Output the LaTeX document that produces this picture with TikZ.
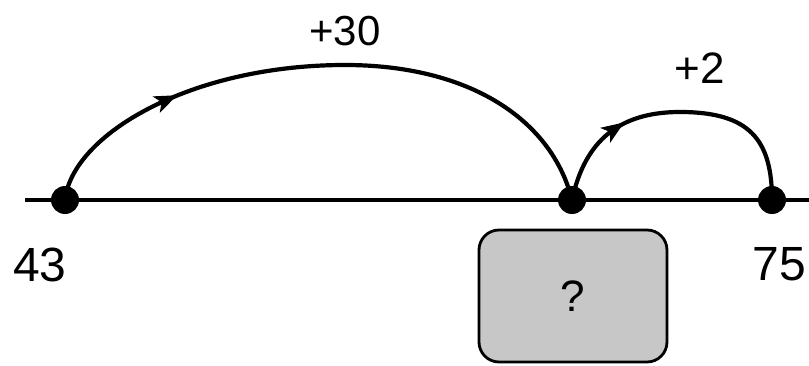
\documentclass[tikz,border=0pt]{standalone}
\usepackage{fontspec}
\setmainfont{Liberation Sans}
\usetikzlibrary{decorations.markings}
\begin{document}
\begin{tikzpicture}[x=1pt,y=-1pt,
  dotnode/.style={circle,fill=black,inner sep=0pt,minimum size=28pt},
  jump/.style={line width=4.2pt,line cap=round,
    postaction={decorate,decoration={markings,
      mark=at position #1 with {\fill (-11pt,-9pt) -- (12pt,0pt) -- (-11pt,9pt) -- (-5pt,0pt) -- cycle;}}}},
  numlabel/.style={font=\fontsize{48}{48}\selectfont,inner sep=0pt},
  qbox/.style={draw=black,line width=2.8pt,fill=black!22,rounded corners=20pt,
    minimum width=188pt,minimum height=132pt,font=\fontsize{44}{44}\selectfont}]
\useasboundingbox (0,0) rectangle (809,366);
\coordinate (lineL) at (25,200);
\coordinate (lineR) at (809,200);
\draw[line width=3.2pt] (lineL) -- (lineR);
\node[dotnode] (a) at (65,200) {};
\node[dotnode] (b) at (572,200) {};
\node[dotnode] (c) at (772,200) {};
\draw[jump=0.24] (a.center) .. controls (72,135) and (190,65) .. (345,65)
   .. controls (470,65) and (552,120) .. (b.center);
\draw[jump=0.28] (b.center) .. controls (585,140) and (620,112) .. (680,112)
   .. controls (750,112) and (772,140) .. (c.center);
\node[numlabel,anchor=base] (l43) at (40,282) {43};
\node[numlabel,anchor=base] (l75) at (779,280) {75};
\node[numlabel,anchor=base,font=\fontsize{42}{42}\selectfont] (p30) at (345,46) {+30};
\node[numlabel,anchor=base,font=\fontsize{44}{44}\selectfont] (p2) at (700,84) {+2};
\node[qbox] (q) at (573,296) {?};
\end{tikzpicture}
\end{document}
